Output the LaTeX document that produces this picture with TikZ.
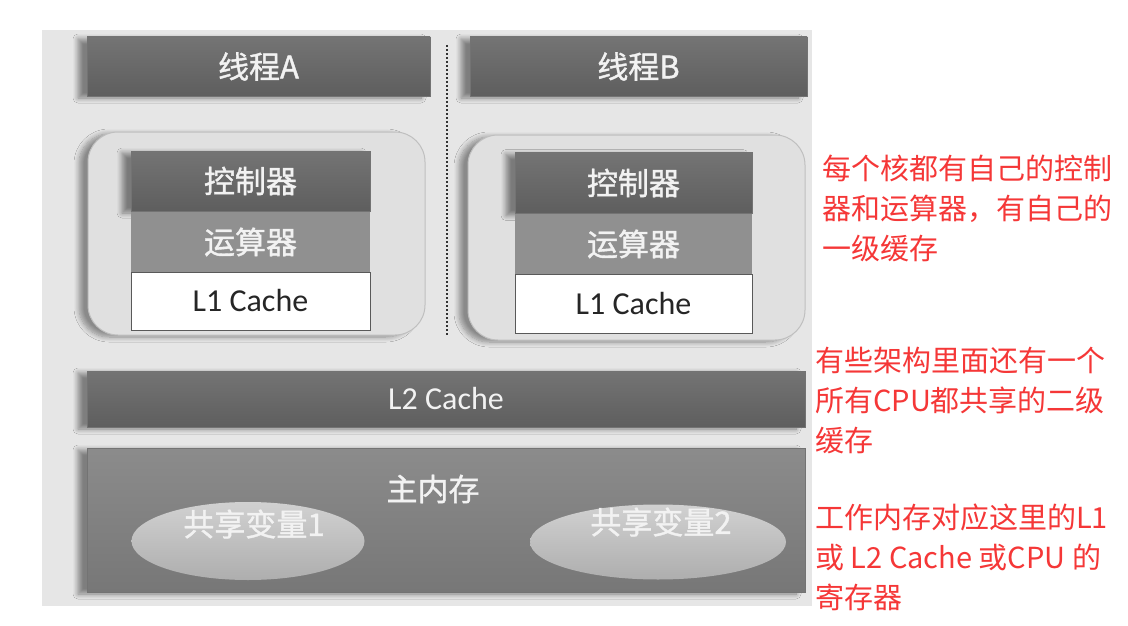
\documentclass[tikz,border=0pt]{standalone}
\usepackage{fontspec}
\setmainfont{Carlito}
\newfontfamily\cjk{Noto Sans CJK SC}
\newfontfamily\cjkb[FakeBold=1.2]{Noto Sans CJK SC}
\usetikzlibrary{shadows.blur,shapes.geometric}
\definecolor{panel}{HTML}{E6E6E6}
\definecolor{darkbox}{HTML}{5E5E5E}
\definecolor{darkboxtop}{HTML}{747474}
\definecolor{midbox}{HTML}{909090}
\definecolor{corefill}{HTML}{E0E0E0}
\definecolor{memfill}{HTML}{777777}
\definecolor{ellfill}{HTML}{BDBDBD}
\definecolor{notered}{HTML}{F53737}
\tikzset{
  boxbase/.style={rectangle, inner sep=0pt, outer sep=0pt, text=white!95!black,
     font=\cjkb\fontsize{31}{34}\selectfont},
  darkbar/.style={boxbase, top color=darkboxtop, bottom color=darkbox, draw=black!55, line width=0.8pt,
     blur shadow={shadow xshift=-9pt, shadow yshift=-2pt, shadow blur steps=8, shadow blur radius=5pt, shadow opacity=45}},
  alubar/.style={boxbase, fill=midbox, draw=none},
  l1bar/.style={boxbase, fill=white, draw=black!65, line width=1pt, text=black!85,
     font=\fontsize{32}{34}\selectfont},
  corebox/.style={rectangle, rounded corners=30pt, fill=corefill, draw=black!25, line width=1pt,
     blur shadow={shadow xshift=-9pt, shadow yshift=-2pt, shadow blur steps=8, shadow blur radius=5pt, shadow opacity=40}},
  memsh/.style={boxbase, top color=memfill!85!white, bottom color=memfill, draw=black!55, line width=0.8pt,
     blur shadow={shadow xshift=-9pt, shadow yshift=-2pt, shadow blur steps=8, shadow blur radius=5pt, shadow opacity=45}},
  varell/.style={ellipse, inner sep=0pt, top color=ellfill!70!white, bottom color=ellfill!92!black, draw=none},
  lbl/.style={text=white!95!black, inner sep=0pt, font=\cjkb\fontsize{31}{34}\selectfont},
  notetext/.style={anchor=north west, align=left, inner sep=0pt, text=notered,
     font=\cjk\fontsize{29}{40}\selectfont},
}
\begin{document}
\begin{tikzpicture}[x=1pt,y=-1pt]
\useasboundingbox (0,0) rectangle (1128,626);
\fill[white] (0,0) rectangle (1128,626);
\fill[panel] (42,30) rectangle (812,606);

% threads
\node[darkbar, minimum width=343pt, minimum height=59pt] (thA) at (258.5,66.5) {线程A};
\node[darkbar, minimum width=337pt, minimum height=59pt] (thB) at (638.5,66.5) {线程B};
\draw[black!80, line width=2pt, dotted] (447,45) coordinate (dtop) -- (447,336) coordinate (dbot);

% cores
\node[corebox, minimum width=337pt, minimum height=203pt] (coreA) at (256.5,233.5) {};
\node[corebox, minimum width=337pt, minimum height=205pt] (coreB) at (636.5,237.5) {};

\node[darkbar, minimum width=239pt, minimum height=60pt] (ctrlA) at (250.5,181) {控制器};
\node[alubar, minimum width=239pt, minimum height=60pt] (aluA) at (250.5,242) {运算器};
\node[l1bar, minimum width=239pt, minimum height=58pt] (l1A) at (250.5,301) {L1 Cache};

\node[darkbar, minimum width=237pt, minimum height=61pt] (ctrlB) at (633.5,183) {控制器};
\node[alubar, minimum width=237pt, minimum height=61pt] (aluB) at (633.5,244) {运算器};
\node[l1bar, minimum width=237pt, minimum height=59pt] (l1B) at (633.5,304) {L1 Cache};

% L2
\node[darkbar, minimum width=718pt, minimum height=56pt, font=\fontsize{32}{34}\selectfont] (l2) at (446,399) {L2 Cache};

% main memory
\node[memsh, minimum width=718pt, minimum height=144pt] (mem) at (446,520) {};
\node[lbl] (memlbl) at (433,489) {主内存};
\node[varell, minimum width=233pt, minimum height=78pt] (var1) at (248,541) {};
\node[lbl] (var1lbl) at (254,524) {共享变量1};
\node[varell, minimum width=256pt, minimum height=75pt] (var2) at (658,542) {};
\node[lbl] (var2lbl) at (661,522) {共享变量2};

% notes
\node[notetext] (note1) at (822,155) {每个核都有自己的控制\\器和运算器，有自己的\\一级缓存};
\node[notetext] (note2) at (815,347) {有些架构里面还有一个\\所有CPU都共享的二级\\缓存};
\node[notetext] (note3) at (815,504) {工作内存对应这里的L1\\或 L2 Cache 或CPU 的\\寄存器};
\end{tikzpicture}
\end{document}
